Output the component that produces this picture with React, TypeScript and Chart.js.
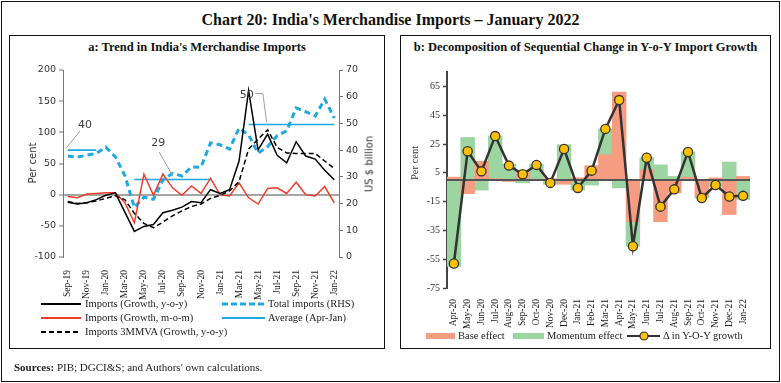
import React, { useEffect, useRef } from 'react';
import { Chart, registerables } from 'chart.js';

Chart.register(...registerables);

// ---------- Panel a data ----------
const monthsA = [
  'Sep-19', 'Oct-19', 'Nov-19', 'Dec-19', 'Jan-20', 'Feb-20', 'Mar-20', 'Apr-20', 'May-20', 'Jun-20',
  'Jul-20', 'Aug-20', 'Sep-20', 'Oct-20', 'Nov-20', 'Dec-20', 'Jan-21', 'Feb-21', 'Mar-21', 'Apr-21',
  'May-21', 'Jun-21', 'Jul-21', 'Aug-21', 'Sep-21', 'Oct-21', 'Nov-21', 'Dec-21', 'Jan-22',
];
const importsYoy = [-12, -15, -13, -8, -1, 3, -28, -59, -51, -48, -29, -25, -20, -11, -13, 8, 2, 8, 54, 167, 72, 97, 63, 51, 85, 62, 57, 39, 24];
const importsMom = [-3, -5, 1, 2, 3, 3, -13, -45, 33, -1, 33, 11, -1, 14, 2, 26, 0, -2, 19, -5, -15, 10, 11, 2, 20, 0, -2, 13, -13];
const imports3mma = [-11, -14, -13, -10, -6, -2, -8, -30, -46, -53, -44, -34, -26, -19, -15, -6, -1, 6, 21, 73, 89, 104, 76, 67, 66, 66, 66, 54, 42];
const totalImports = [37.8, 37.4, 38.1, 38.8, 41.1, 37.5, 30.5, 18.5, 22.4, 21.6, 28.8, 31.3, 30.3, 33.7, 33.6, 42.7, 42.0, 40.4, 48.3, 45.7, 38.9, 41.3, 45.4, 47.2, 55.8, 54.4, 52.8, 59.1, 52.0];
const averagePeriods = [
  { value: 40, from: 0, to: 3 },
  { value: 29, from: 7, to: 15 },
  { value: 49.6, from: 19, to: 28 },
];
const leftTicks = [-100, -50, 0, 50, 100, 150, 200];
const rightTicks = [0, 10, 20, 30, 40, 50, 60, 70];
const avgLabels = [
  { text: '40', at: [1.8, 49.4], leader: [[1.3, 47.2], [-0.2, 40.6]] },
  { text: '29', at: [9.5, 42.7], leader: [[9.6, 39.3], [11.05, 30.2]] },
  { text: '50', at: [18.8, 60.6], leader: [[19.7, 61.2], [20.5, 61.2], [20.9, 50.4]] },
];

// ---------- Panel b data ----------
const monthsB = [
  'Apr-20', 'May-20', 'Jun-20', 'Jul-20', 'Aug-20', 'Sep-20', 'Oct-20', 'Nov-20', 'Dec-20', 'Jan-21', 'Feb-21',
  'Mar-21', 'Apr-21', 'May-21', 'Jun-21', 'Jul-21', 'Aug-21', 'Sep-21', 'Oct-21', 'Nov-21', 'Dec-21', 'Jan-22',
];
const baseEffect = [2, -9.5, 13, 1, -1, 6, -0.5, 1, -3, 1.5, 10, 17.5, 61, -29, 7, -29, -9, 2, -11, 1.5, -24, 2.5];
const momentumEffect = [-60, 29.5, -7, 29.5, 11, -2, 11, -3, 24.5, -7, -3.5, 18, -5.5, -17, 8.5, 10.5, 2.5, 17.5, -1.5, -5, 12.5, -13.5];
const yoyChange = [-58, 20, 6, 30.5, 10, 4, 10.5, -2, 21.5, -5.5, 6.5, 35.5, 55.5, -46, 15.5, -18.5, -6.5, 19.5, -12.5, -3.5, -11.5, -11];
const yTicksB = [-75, -55, -35, -15, 5, 25, 45, 65];

const SERIF = '"Liberation Serif", "DejaVu Serif", serif';
const SANS = '"DejaVu Sans", "Liberation Sans", sans-serif';
const BLUE = '#1fa8e1';
const RED = '#f03c28';
const SALMON = 'rgb(246,156,128)';
const GREEN = 'rgb(156,212,162)';
const GOLD = '#ffc000';

const annotationPlugin = {
  id: 'avgLabels',
  afterDatasetsDraw(chart: any) {
    const { ctx } = chart;
    const x = chart.scales.x;
    const y1 = chart.scales.y1;
    ctx.save();
    avgLabels.forEach((a) => {
      ctx.strokeStyle = '#a0a0a0';
      ctx.lineWidth = 1;
      ctx.beginPath();
      a.leader.forEach((p, i) => {
        const px = x.getPixelForValue(p[0]);
        const py = y1.getPixelForValue(p[1]);
        if (i === 0) ctx.moveTo(px, py);
        else ctx.lineTo(px, py);
      });
      ctx.stroke();
      ctx.fillStyle = '#404040';
      ctx.font = `11px ${SANS}`;
      ctx.textAlign = 'center';
      ctx.textBaseline = 'middle';
      ctx.fillText(a.text, x.getPixelForValue(a.at[0]), y1.getPixelForValue(a.at[1]));
    });
    ctx.restore();
  },
};

const zeroLinePlugin = {
  id: 'zeroLine',
  beforeDatasetDraw(chart: any, args: any) {
    if (args.meta.type !== 'line') return;
    const { ctx, chartArea } = chart;
    const y = chart.scales.y.getPixelForValue(0);
    ctx.save();
    ctx.strokeStyle = '#555';
    ctx.lineWidth = 2;
    ctx.beginPath();
    ctx.moveTo(chartArea.left, y);
    ctx.lineTo(chartArea.right, y);
    ctx.stroke();
    ctx.restore();
  },
};

function ChartA() {
  const ref = useRef<HTMLCanvasElement>(null);
  useEffect(() => {
    const avgSets = averagePeriods.map((p) => ({
      label: 'Average (Apr-Jan)',
      data: monthsA.map((_, i) => (i >= p.from && i <= p.to ? p.value : null)),
      yAxisID: 'y1',
      borderColor: BLUE,
      borderWidth: 1.6,
      pointRadius: 0,
    }));
    const chart = new Chart(ref.current as HTMLCanvasElement, {
      type: 'line',
      data: {
        labels: monthsA,
        datasets: [
          { label: 'Imports (Growth, y-o-y)', data: importsYoy, yAxisID: 'y', borderColor: '#000', borderWidth: 1.5, pointRadius: 0 },
          { label: 'Imports 3MMVA (Growth, y-o-y)', data: imports3mma, yAxisID: 'y', borderColor: '#000', borderWidth: 1.5, borderDash: [5, 3], pointRadius: 0 },
          { label: 'Imports (Growth, m-o-m)', data: importsMom, yAxisID: 'y', borderColor: RED, borderWidth: 1.5, pointRadius: 0 },
          { label: 'Total imports (RHS)', data: totalImports, yAxisID: 'y1', borderColor: BLUE, borderWidth: 3, borderDash: [6, 4], pointRadius: 0 },
          ...avgSets,
        ] as any,
      },
      options: {
        responsive: false,
        maintainAspectRatio: false,
        animation: false,
        layout: { padding: { top: 10, left: 0, right: 0, bottom: 0 } },
        plugins: { legend: { display: false }, tooltip: { enabled: false } },
        scales: {
          x: {
            offset: true,
            grid: { display: false },
            border: { display: false },
            ticks: {
              autoSkip: false,
              minRotation: 90,
              maxRotation: 90,
              padding: 5,
              color: '#222',
              font: { family: SERIF, size: 9.5 },
              callback: (_v: any, i: number) => (i % 2 === 0 ? monthsA[i] : ''),
            },
            afterFit: (s: any) => { s.height = 45; },
          },
          y: {
            position: 'left',
            min: leftTicks[0],
            max: leftTicks[leftTicks.length - 1],
            afterBuildTicks: (s: any) => { s.ticks = leftTicks.map((v) => ({ value: v })); },
            ticks: { color: '#333', padding: 3, font: { family: SANS, size: 9.5 } },
            grid: {
              color: (c: any) => (c.tick && c.tick.value === 0 ? '#a6a6a6' : 'rgba(0,0,0,0)'),
              lineWidth: 2,
              tickLength: 4,
              tickColor: '#777',
              tickWidth: 1,
            },
            border: { color: '#777', width: 1 },
            afterFit: (s: any) => { s.width = 53; },
          },
          y1: {
            position: 'right',
            min: rightTicks[0],
            max: rightTicks[rightTicks.length - 1],
            afterBuildTicks: (s: any) => { s.ticks = rightTicks.map((v) => ({ value: v })); },
            ticks: { color: '#333', padding: 3, font: { family: SANS, size: 9.5 } },
            grid: { drawOnChartArea: false, tickLength: 4, tickColor: '#777', tickWidth: 1 },
            border: { color: '#777', width: 1 },
            afterFit: (s: any) => { s.width = 43; },
          },
        },
      } as any,
      plugins: [annotationPlugin],
    });
    return () => chart.destroy();
  }, []);
  return (
    <canvas
      ref={ref}
      width={372}
      height={242}
      style={{ position: 'absolute', left: 10, top: 60, width: 372, height: 242 }}
    />
  );
}

function ChartB() {
  const ref = useRef<HTMLCanvasElement>(null);
  useEffect(() => {
    const chart = new Chart(ref.current as HTMLCanvasElement, {
      type: 'bar',
      data: {
        labels: monthsB,
        datasets: [
          {
            type: 'line',
            label: 'Δ in Y-O-Y growth',
            data: yoyChange,
            stack: 'line',
            borderColor: '#333',
            borderWidth: 2.5,
            pointRadius: 4.6,
            pointBackgroundColor: GOLD,
            pointBorderColor: '#333',
            pointBorderWidth: 1.3,
          },
          { label: 'Base effect', data: baseEffect, stack: 'eff', backgroundColor: SALMON, barPercentage: 1, categoryPercentage: 1 },
          { label: 'Momentum effect', data: momentumEffect, stack: 'eff', backgroundColor: GREEN, barPercentage: 1, categoryPercentage: 1 },
        ] as any,
      },
      options: {
        responsive: false,
        maintainAspectRatio: false,
        animation: false,
        layout: { padding: { top: 10, left: 0, right: 18, bottom: 0 } },
        plugins: { legend: { display: false }, tooltip: { enabled: false } },
        scales: {
          x: {
            stacked: true,
            grid: { display: false },
            border: { display: false },
            ticks: {
              autoSkip: false,
              minRotation: 90,
              maxRotation: 90,
              padding: 3,
              color: '#222',
              font: { family: SERIF, size: 9.5 },
            },
            afterFit: (s: any) => { s.height = 44; },
          },
          y: {
            stacked: true,
            min: -75,
            max: 75,
            afterBuildTicks: (s: any) => { s.ticks = yTicksB.map((v) => ({ value: v })); },
            ticks: { color: '#333', padding: 3, font: { family: SERIF, size: 10 } },
            grid: { drawOnChartArea: false, tickLength: 4, tickColor: '#444', tickWidth: 1.5 },
            border: { color: '#444', width: 2 },
            afterFit: (s: any) => { s.width = 45; },
          },
        },
      } as any,
      plugins: [zeroLinePlugin],
    });
    return () => chart.destroy();
  }, []);
  return (
    <canvas
      ref={ref}
      width={366}
      height={270}
      style={{ position: 'absolute', left: 402, top: 62, width: 366, height: 270 }}
    />
  );
}

const abs = (left: number, top: number, extra: React.CSSProperties = {}): React.CSSProperties => ({
  position: 'absolute',
  left,
  top,
  whiteSpace: 'nowrap',
  ...extra,
});

function LineSample({ color, width, dash, x, y, w = 40 }: { color: string; width: number; dash?: string; x: number; y: number; w?: number }) {
  return (
    <svg style={abs(x, y - 4)} width={w} height={8}>
      <line x1={0} y1={4} x2={w} y2={4} stroke={color} strokeWidth={width} strokeDasharray={dash} />
    </svg>
  );
}

function Label({ x, y, text }: { x: number; y: number; text: string }) {
  return (
    <div style={abs(x, y - 7, { fontSize: 10.5, lineHeight: '14px', color: '#222' })}>{text}</div>
  );
}

export default function App() {
  return (
    <div
      style={{
        position: 'fixed',
        left: 0,
        top: 0,
        width: 781,
        height: 383,
        background: '#fff',
        overflow: 'hidden',
        fontFamily: SERIF,
        color: '#111',
      }}
    >
      <div style={abs(1, 1, { width: 777, height: 379, border: '1.5px solid #111' })} />
      <div style={abs(0, 9, { width: 781, textAlign: 'center', fontSize: 16, fontWeight: 600, lineHeight: '22px' })}>
        Chart 20: India's Merchandise Imports – January 2022
      </div>

      {/* Panel a */}
      <div style={abs(9, 35, { width: 374, height: 312, border: '1px solid #111' })} />
      <div style={abs(9, 39, { width: 376, textAlign: 'center', fontSize: 12.5, fontWeight: 600, lineHeight: '16px' })}>
        a: Trend in India's Merchandise Imports
      </div>
      <ChartA />
      <div style={abs(32, 163, { transform: 'translate(-50%, -50%) rotate(-90deg)', fontFamily: SANS, fontSize: 10, color: '#333' })}>
        Per cent
      </div>
      <div style={abs(369, 164, { transform: 'translate(-50%, -50%) rotate(-90deg)', fontFamily: SANS, fontSize: 10, color: '#333' })}>
        US $ billion
      </div>
      <LineSample x={41} y={304} color="#000" width={1.8} />
      <Label x={85} y={304} text="Imports (Growth, y-o-y)" />
      <LineSample x={41} y={318} color={RED} width={1.8} />
      <Label x={85} y={318} text="Imports (Growth, m-o-m)" />
      <LineSample x={41} y={332} color="#000" width={1.8} dash="5 3" />
      <Label x={85} y={332} text="Imports 3MMVA (Growth, y-o-y)" />
      <LineSample x={222} y={304} color={BLUE} width={3} dash="6 3" w={43} />
      <Label x={268} y={304} text="Total imports (RHS)" />
      <LineSample x={222} y={318} color={BLUE} width={1.8} w={43} />
      <Label x={268} y={318} text="Average (Apr-Jan)" />

      {/* Panel b */}
      <div style={abs(400, 35, { width: 369, height: 312, border: '1px solid #111' })} />
      <div style={abs(400, 39, { width: 371, textAlign: 'center', fontSize: 12.5, fontWeight: 600, lineHeight: '16px' })}>
        b: Decomposition of Sequential Change in Y-o-Y Import Growth
      </div>
      <ChartB />
      <div style={abs(414, 163, { transform: 'translate(-50%, -50%) rotate(-90deg)', fontSize: 10.5, color: '#333' })}>
        Per cent
      </div>
      <div style={abs(426, 333, { width: 29, height: 6, background: SALMON })} />
      <Label x={458} y={336} text="Base effect" />
      <div style={abs(513, 333, { width: 31, height: 6, background: GREEN })} />
      <Label x={547} y={336} text="Momentum effect" />
      <svg style={abs(627, 330)} width={33} height={12}>
        <line x1={0} y1={6} x2={33} y2={6} stroke="#333" strokeWidth={2} />
        <circle cx={17} cy={6} r={4} fill={GOLD} stroke="#333" strokeWidth={1.2} />
      </svg>
      <Label x={663} y={336} text="Δ in Y-O-Y growth" />

      <div style={abs(14, 360, { fontSize: 11, lineHeight: '14px', color: '#222' })}>
        <b>Sources:</b> PIB; DGCI&amp;S; and Authors' own calculations.
      </div>
    </div>
  );
}
